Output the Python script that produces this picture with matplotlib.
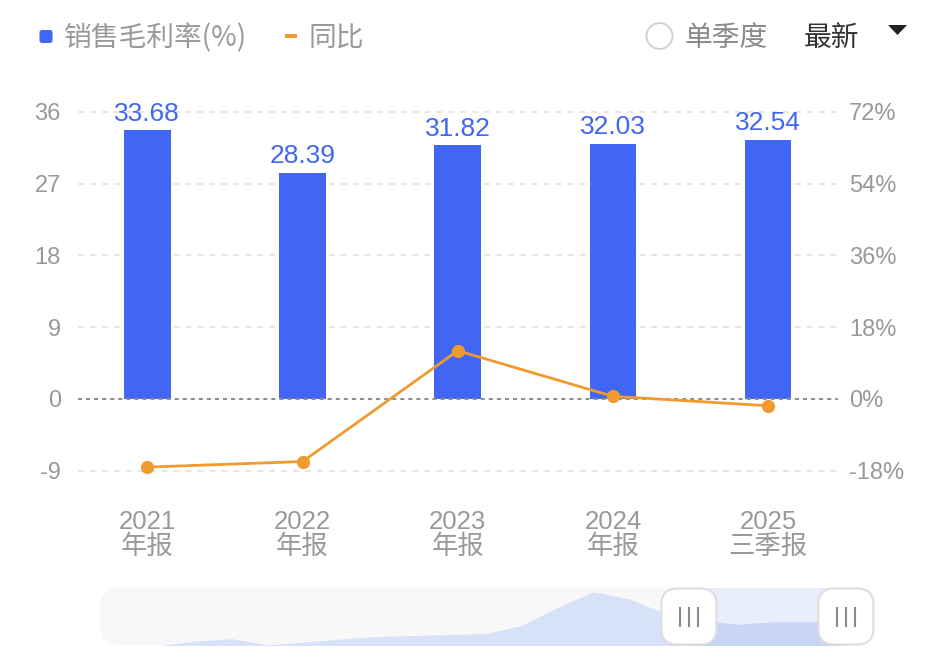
import matplotlib
matplotlib.use('Agg')
import matplotlib.pyplot as plt
from matplotlib.patches import FancyBboxPatch, Rectangle, Circle, Polygon
from matplotlib.transforms import blended_transform_factory
import numpy as np

plt.rcParams['font.family'] = ['Liberation Sans', 'Noto Sans CJK SC', 'DejaVu Sans']
plt.rcParams['lines.scale_dashes'] = False

# ---------------- data ----------------
categories = ['2021', '2022', '2023', '2024', '2025']
periods = ['年报', '年报', '年报', '年报', '三季报']
gross_margin = [33.68, 28.39, 31.82, 32.03, 32.54]
yoy = [-17.1, -15.7, 12.1, 0.66, -1.7]
left_ticks = [-9, 0, 9, 18, 27, 36]
right_ticks = [-18, 0, 18, 36, 54, 72]
right_tick_labels = ['-18%', '0%', '18%', '36%', '54%', '72%']
overview = [0, 6.0, 9.1, 0.7, 4.7, 8.7, 12.1, 13.4, 14.8, 16.1, 26.8, 51.0,
            72.5, 62.8, 43.0, 33.68, 28.39, 31.82, 32.03, 32.54]
window = [14.65, 19]

legend_labels = ['销售毛利率(%)', '同比']
toggle_label = '单季度'
menu_label = '最新'

# ---------------- style ----------------
W, H = 926, 663
BLUE = '#4166F3'
ORANGE = '#F09A30'
GRAY = '#999999'

fig = plt.figure(figsize=(W / 100, H / 100), dpi=100)


def fx(px):
    return px / W


def fy(py):
    return 1 - py / H


# background overlay (pixel coordinates)
bg = fig.add_axes([0, 0, 1, 1], zorder=0)
bg.set_xlim(0, W)
bg.set_ylim(H, 0)
bg.axis('off')

# ---------------- main chart ----------------
ax = fig.add_axes([fx(77.5), fy(470.7), fx(838) - fx(77.5), fy(112) - fy(470.7)], zorder=2)
x = np.arange(len(categories))
ax.set_xlim(-0.45, len(categories) - 0.55)
ax.set_ylim(left_ticks[0], left_ticks[-1])
for s in ax.spines.values():
    s.set_visible(False)
ax.set_xticks([])
ax.set_yticks(left_ticks)
ax.set_yticklabels([str(t) for t in left_ticks])
ax.tick_params(axis='y', length=0, pad=12, labelsize=17, labelcolor=GRAY)

for t in left_ticks:
    if t == 0:
        continue
    ax.axhline(t, color='#e2e2e2', lw=1.2, dashes=(4.3, 4.3), zorder=0, clip_on=False)

ax.bar(x, gross_margin, width=0.30, color=BLUE, zorder=2)
ax.axhline(0, color='#8f8f8f', lw=1.5, dashes=(2.9, 2.9), zorder=3, clip_on=False)

for xi, v in zip(x, gross_margin):
    ax.annotate(f'{v:.2f}', (xi, v), xytext=(0, 7), textcoords='offset points',
                ha='center', va='baseline', fontsize=19, color=BLUE, zorder=4)

trans = blended_transform_factory(ax.transData, fig.transFigure)
for xi, c, p in zip(x, categories, periods):
    fig.text(xi, fy(529), c, transform=trans, ha='center', va='baseline', fontsize=18.5, color=GRAY)
    fig.text(xi, fy(547), p, transform=trans, ha='center', va='center', fontsize=19, color=GRAY)

ax2 = ax.twinx()
ax2.set_ylim(right_ticks[0], right_ticks[-1])
for s in ax2.spines.values():
    s.set_visible(False)
ax2.set_yticks(right_ticks)
ax2.set_yticklabels(right_tick_labels)
ax2.tick_params(axis='y', length=0, pad=8, labelsize=17, labelcolor=GRAY)
ax2.plot(x, yoy, color=ORANGE, lw=2, marker='o', ms=8.5, zorder=5, clip_on=False)

# ---------------- legend / header ----------------
bg.add_patch(FancyBboxPatch((39.5, 30), 13, 13, boxstyle='round,pad=0,rounding_size=2.5',
                            fc=BLUE, ec='none'))
bg.text(64, 38.5, legend_labels[0], fontsize=20, color=GRAY, ha='left', va='center',
        family=['Noto Sans CJK SC', 'DejaVu Sans'])
bg.add_patch(Rectangle((285, 34), 12, 4, fc=ORANGE, ec='none'))
bg.text(309, 38.5, legend_labels[1], fontsize=20, color=GRAY, ha='left', va='center',
        family=['Noto Sans CJK SC', 'DejaVu Sans'])

bg.add_patch(Circle((659.5, 36), 13, fc='white', ec='#cfcfcf', lw=1.3))
bg.text(684, 38.5, toggle_label, fontsize=20, color='#8a8a8a', ha='left', va='center',
        family=['Noto Sans CJK SC', 'DejaVu Sans'])
bg.text(804, 38.5, menu_label, fontsize=20, color='#333333', ha='left', va='center',
        family=['Noto Sans CJK SC', 'DejaVu Sans'])
bg.add_patch(Polygon([(888, 25), (907, 25), (897.5, 35)], closed=True, fc='#222222', ec='none'))

# ---------------- data zoom slider ----------------
bg.add_patch(FancyBboxPatch((100, 588), 775, 57, boxstyle='round,pad=0,rounding_size=18',
                            fc='#f8f8f8', ec='none'))

ov_x0_px, ov_step_px = 160.0, 36.1
ov_left_px, ov_right_px = 100.0, 875.0
ov_top_px, ov_bot_px = 588.0, 645.5
ov = fig.add_axes([fx(ov_left_px), fy(ov_bot_px), fx(ov_right_px) - fx(ov_left_px),
                   fy(ov_top_px) - fy(ov_bot_px)], zorder=1)
ov.set_xlim((ov_left_px - ov_x0_px) / ov_step_px, (ov_right_px - ov_x0_px) / ov_step_px)
ov.set_ylim(0, 77.5)
ov.axis('off')
idx = np.arange(len(overview))
ov.axvspan(window[0], window[1], color='#e9eefb', lw=0, zorder=0)
ov.fill_between(idx, overview, 0, color='#d7e1f8', lw=0, zorder=1)
dark = ov.fill_between(idx, overview, 0, color='#c8d5f5', lw=0, zorder=2)
dark.set_clip_path(Rectangle((window[0], 0), window[1] - window[0], 100, transform=ov.transData))

fg = fig.add_axes([0, 0, 1, 1], zorder=3)
fg.set_xlim(0, W)
fg.set_ylim(H, 0)
fg.axis('off')
for w in window:
    cx = ov_x0_px + w * ov_step_px
    fg.add_patch(FancyBboxPatch((cx - 27.5, 588.5), 55, 56, boxstyle='round,pad=0,rounding_size=16',
                                fc='white', ec='#dedede', lw=1.5))
    for dx in (-8.7, 0, 8.7):
        fg.plot([cx + dx, cx + dx], [607, 627], color='#8a8a8a', lw=1.5, solid_capstyle='butt')

fig.savefig('out.png', dpi=100)
